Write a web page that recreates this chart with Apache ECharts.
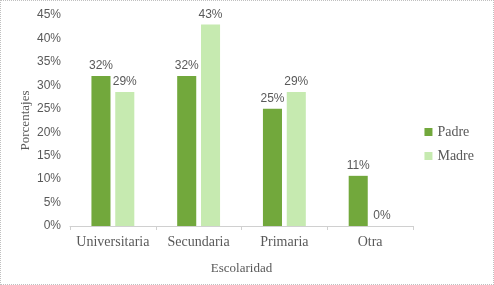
<!DOCTYPE html>
<html>
<head>
<meta charset="utf-8">
<script src="https://cdn.jsdelivr.net/npm/echarts@6/dist/echarts.min.js"></script>
<style>
	body{margin:0;background:#fff;}
	.barChart{width:494px;height:285px;box-sizing:border-box;border:1px dotted #c0c0c0;}
</style>
</head>
<body>
<div class="barChart" id="barChart"></div>
<script>
var categories = ['Universitaria', 'Secundaria', 'Primaria', 'Otra'];
var padre = [32, 32, 25, 10.7];
var madre = [28.6, 43, 28.6, 0];
var yTicks = [0, 5, 10, 15, 20, 25, 30, 35, 40, 45];

var myChart = echarts.init(document.getElementById('barChart'));
var serif = '"Liberation Serif", "Times New Roman", serif';
var sans = '"Liberation Sans", Arial, sans-serif';
var option = {
	animation:false,
	grid:{
		left:69,
		right:80,
		top:14,
		bottom:58
	},
	legend:{
		orient:'vertical',
		right:14,
		top:119,
		itemWidth:8,
		itemHeight:8,
		itemGap:10,
		icon:'rect',
		textStyle:{
			fontFamily:serif,
			fontSize:14,
			color:'#595959'
		},
		data:['Padre','Madre']
	},
	xAxis:{
		type:'category',
		data:categories,
		name:'Escolaridad',
		nameLocation:'middle',
		nameGap:36,
		nameTextStyle:{fontFamily:serif,fontSize:13,color:'#595959'},
		axisLine:{lineStyle:{color:'#d0d0d0'}},
		axisTick:{show:true,length:4,lineStyle:{color:'#d0d0d0'}},
		axisLabel:{interval:0,fontFamily:serif,fontSize:14,color:'#595959',margin:9}
	},
	yAxis:{
		type:'value',
		min:yTicks[0],
		max:yTicks[yTicks.length - 1],
		interval:5,
		name:'Porcentajes',
		nameLocation:'middle',
		nameGap:38,
		nameMoveOverlap:false,
		nameTextStyle:{fontFamily:serif,fontSize:13,color:'#595959'},
		axisLine:{show:false},
		axisTick:{show:false},
		splitLine:{show:false},
		axisLabel:{
			fontFamily:sans,
			fontSize:12,
			color:'#595959',
			margin:9,
			formatter:function(v){ return v + '%'; }
		}
	},
	series:[
		{
			name:'Padre',
			type:'bar',
			data:padre,
			barGap:'25%',
			barCategoryGap:'50%',
			itemStyle:{color:'#72a83c'},
			label:{
				show:true,
				position:'top',
				distance:4,
				fontFamily:sans,
				fontSize:12,
				color:'#595959',
				formatter:function(p){ return Math.round(p.value) + '%'; }
			}
		},
		{
			name:'Madre',
			type:'bar',
			data:madre,
			barGap:'25%',
			barCategoryGap:'50%',
			itemStyle:{color:'#c6eab0'},
			label:{
				show:true,
				position:'top',
				distance:4,
				fontFamily:sans,
				fontSize:12,
				color:'#595959',
				formatter:function(p){ return Math.round(p.value) + '%'; }
			}
		}
	]
};
myChart.setOption(option);
</script>
</body>
</html>
